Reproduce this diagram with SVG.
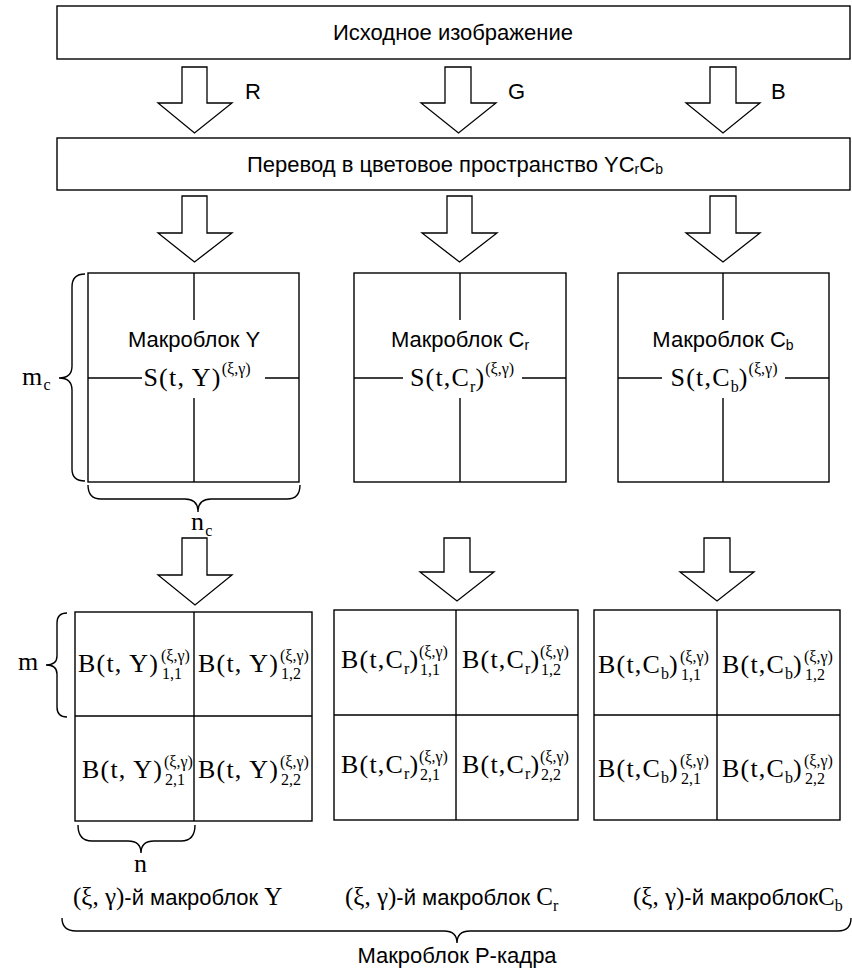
<svg xmlns="http://www.w3.org/2000/svg" width="852" height="973" viewBox="0 0 852 973">
<style>
.ln{fill:none;stroke:#000;stroke-width:1.4}
.box{fill:#fff;stroke:#000;stroke-width:1.4}
.arr{fill:#fff;stroke:#000;stroke-width:1.3;stroke-linejoin:miter}
.a{font-family:"Liberation Sans",Arial,sans-serif;font-size:22px;fill:#000}
.m{font-family:"Liberation Serif","Times New Roman",serif;font-size:26px;fill:#000;letter-spacing:1.2px}
.s{font-size:16px;letter-spacing:0}
.ss{font-size:14px}
</style>
<rect width="852" height="973" fill="#fff"/>

<g id="source">
<rect class="box" x="57" y="6" width="793" height="53"/>
<text class="a" x="453" y="40" text-anchor="middle">Исходное изображение</text>
</g>

<g id="convert">
<rect class="box" x="57" y="138" width="793" height="52"/>
<text class="a" x="247" y="172">Перевод в цветовое пространство YC<tspan class="ss" dy="2">r</tspan><tspan dy="-2">C</tspan><tspan class="ss" dy="2">b</tspan></text>
</g>

<g id="connectors">
<polygon class="arr" points="182,67 207,67 207,103 232,103 194.5,133 158,103 182,103"/>
<polygon class="arr" points="445,67 471,67 471,103 496,103 458.5,133 421,103 445,103"/>
<polygon class="arr" points="710,67 736,67 736,103 760,103 723,133 686,103 710,103"/>
<text class="a" x="245" y="99">R</text>
<text class="a" x="508" y="99">G</text>
<text class="a" x="771" y="99">B</text>
<polygon class="arr" points="182,196 207,196 207,233 232,233 194.5,262 158,233 182,233"/>
<polygon class="arr" points="447,196 472,196 472,233 497,233 459.5,262 422,233 447,233"/>
<polygon class="arr" points="710,196 736,196 736,233 760,233 723,262 686,233 710,233"/>
<polygon class="arr" points="182,538 207,538 207,575 232,575 195,605 158,575 182,575"/>
<polygon class="arr" points="444,538 470,538 470,572 494,572 457,601 420,572 444,572"/>
<polygon class="arr" points="704,538 730,538 730,572 754,572 717,601 680,572 704,572"/>
</g>

<g id="mb-Y">
<rect class="box" x="88" y="273" width="211" height="209"/>
<path class="ln" d="M194,273V320M194,398V482M88,378H142M265,378H299"/>
<text class="a" x="194" y="347" text-anchor="middle">Макроблок Y</text>
<text class="m" x="197" y="386" text-anchor="middle">S(t, Y)<tspan class="s" dy="-12">(ξ,γ)</tspan></text>
</g>

<g id="mb-Cr">
<rect class="box" x="354" y="273" width="212" height="209"/>
<path class="ln" d="M460,273V320M460,398V482M354,378H403M522,378H566"/>
<text class="a" x="460" y="347" text-anchor="middle">Макроблок C<tspan class="ss" dy="3">r</tspan></text>
<text class="m" x="462" y="386" text-anchor="middle">S(t,C<tspan class="s" dy="6">r</tspan><tspan dy="-6">)</tspan><tspan class="s" dy="-12">(ξ,γ)</tspan></text>
</g>

<g id="mb-Cb">
<rect class="box" x="618" y="273" width="211" height="209"/>
<path class="ln" d="M723,273V320M723,398V482M618,378H662M785,378H829"/>
<text class="a" x="723" y="347" text-anchor="middle">Макроблок C<tspan class="ss" dy="3">b</tspan></text>
<text class="m" x="724" y="386" text-anchor="middle">S(t,C<tspan class="s" dy="6">b</tspan><tspan dy="-6">)</tspan><tspan class="s" dy="-12">(ξ,γ)</tspan></text>
</g>

<g id="dims-top">
<path class="ln" d="M85,274Q72,274 72,287V366Q72,378 59,378Q72,378 72,390V469Q72,481 85,481"/>
<text class="m" x="22" y="385">m<tspan class="s" dy="5">c</tspan></text>
<path class="ln" d="M88,485Q88,499 101,499H185Q198,499 198,512Q198,499 211,499H287Q300,499 300,485"/>
<text class="m" x="191" y="530">n<tspan class="s" dy="6">c</tspan></text>
</g>

<g id="blocks-Y">
<rect class="box" x="75" y="612" width="237" height="209"/>
<path class="ln" d="M194,612V821M75,716H312"/>
<text class="m" x="78" y="672">B(t, Y)<tspan class="s" x="161" y="661">(ξ,γ)</tspan><tspan class="s" x="162" y="679">1,1</tspan></text>
<text class="m" x="198" y="672">B(t, Y)<tspan class="s" x="280" y="661">(ξ,γ)</tspan><tspan class="s" x="281" y="679">1,2</tspan></text>
<text class="m" x="82" y="778">B(t, Y)<tspan class="s" x="164" y="767">(ξ,γ)</tspan><tspan class="s" x="165" y="785">2,1</tspan></text>
<text class="m" x="198" y="778">B(t, Y)<tspan class="s" x="280" y="767">(ξ,γ)</tspan><tspan class="s" x="281" y="785">2,2</tspan></text>
</g>

<g id="blocks-Cr">
<rect class="box" x="334" y="610" width="244" height="210"/>
<path class="ln" d="M456,610V820M334,715H578"/>
<text class="m" x="341" y="668">B(t,C<tspan class="s" dy="6">r</tspan><tspan dy="-6">)</tspan><tspan class="s" x="419" y="657">(ξ,γ)</tspan><tspan class="s" x="420" y="675">1,1</tspan></text>
<text class="m" x="462" y="668">B(t,C<tspan class="s" dy="6">r</tspan><tspan dy="-6">)</tspan><tspan class="s" x="540" y="657">(ξ,γ)</tspan><tspan class="s" x="541" y="675">1,2</tspan></text>
<text class="m" x="341" y="773">B(t,C<tspan class="s" dy="6">r</tspan><tspan dy="-6">)</tspan><tspan class="s" x="419" y="762">(ξ,γ)</tspan><tspan class="s" x="420" y="780">2,1</tspan></text>
<text class="m" x="462" y="773">B(t,C<tspan class="s" dy="6">r</tspan><tspan dy="-6">)</tspan><tspan class="s" x="540" y="762">(ξ,γ)</tspan><tspan class="s" x="541" y="780">2,2</tspan></text>
</g>

<g id="blocks-Cb">
<rect class="box" x="594" y="610" width="246" height="210"/>
<path class="ln" d="M717,610V820M594,715H840"/>
<text class="m" x="598" y="673">B(t,C<tspan class="s" dy="6">b</tspan><tspan dy="-6">)</tspan><tspan class="s" x="680" y="662">(ξ,γ)</tspan><tspan class="s" x="681" y="680">1,1</tspan></text>
<text class="m" x="722" y="673">B(t,C<tspan class="s" dy="6">b</tspan><tspan dy="-6">)</tspan><tspan class="s" x="804" y="662">(ξ,γ)</tspan><tspan class="s" x="805" y="680">1,2</tspan></text>
<text class="m" x="598" y="777">B(t,C<tspan class="s" dy="6">b</tspan><tspan dy="-6">)</tspan><tspan class="s" x="680" y="766">(ξ,γ)</tspan><tspan class="s" x="681" y="784">2,1</tspan></text>
<text class="m" x="722" y="777">B(t,C<tspan class="s" dy="6">b</tspan><tspan dy="-6">)</tspan><tspan class="s" x="804" y="766">(ξ,γ)</tspan><tspan class="s" x="805" y="784">2,2</tspan></text>
</g>

<g id="dims-bottom">
<path class="ln" d="M67,613Q57,613 57,623V656Q57,665 46,665Q57,665 57,674V707Q57,717 67,717"/>
<text class="m" x="18" y="670">m</text>
<path class="ln" d="M78,825Q78,841 92,841H128Q141,841 141,853Q141,841 154,841H181Q195,841 195,825"/>
<text class="m" x="141" y="872" text-anchor="middle">n</text>
</g>

<g id="labels">
<text class="a" x="73" y="905"><tspan class="m" style="font-size:25px;letter-spacing:0">(ξ, γ)</tspan>-й макроблок <tspan class="m" style="font-size:25px;letter-spacing:0">Y</tspan></text>
<text class="a" x="345" y="905"><tspan class="m" style="font-size:25px;letter-spacing:0">(ξ, γ)</tspan>-й макроблок <tspan class="m" style="font-size:25px;letter-spacing:0">C</tspan><tspan class="m s" dy="6">r</tspan></text>
<text class="a" x="633" y="905"><tspan class="m" style="font-size:25px;letter-spacing:0">(ξ, γ)</tspan>-й макроблок<tspan class="m" style="font-size:25px;letter-spacing:0">C</tspan><tspan class="m s" dy="6">b</tspan></text>
<path class="ln" d="M62,918Q62,931 76,931H444Q457,931 457,943Q457,931 470,931H838Q851,931 851,918"/>
<text class="a" x="457" y="963" text-anchor="middle">Макроблок P-кадра</text>
</g>
</svg>
